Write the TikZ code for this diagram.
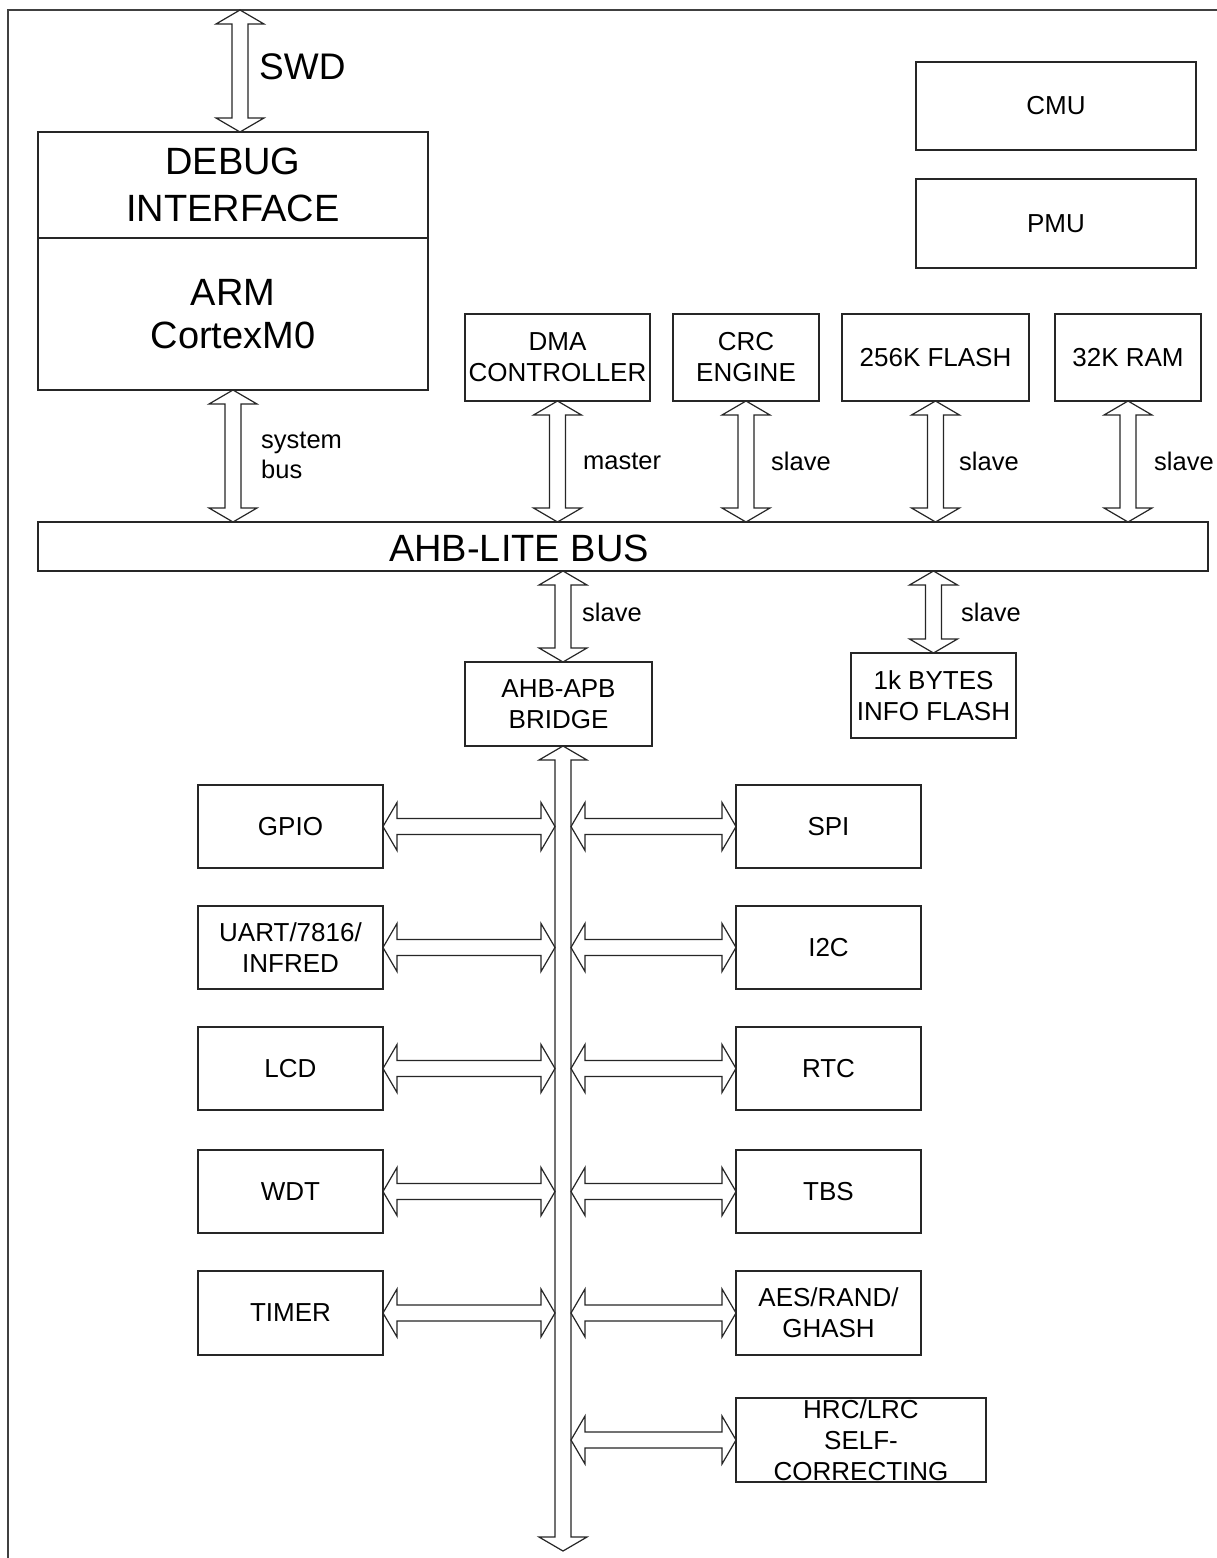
\documentclass[tikz,border=0pt]{standalone}
\usepackage{fontspec}
\setmainfont{Liberation Sans}
\usetikzlibrary{calc}
\newcommand\arrHead{14pt}
\newcommand\arrShaft{8pt}
\newcommand\arrWing{24pt}
\newcommand\blockarrow[2]{%
  \draw[barrow] (#1)
    -- ($(#1)!\arrHead!(#2)!\arrWing!90:(#2)$)
    -- ($(#1)!\arrHead!(#2)!\arrShaft!90:(#2)$)
    -- ($(#2)!\arrHead!(#1)!\arrShaft!-90:(#1)$)
    -- ($(#2)!\arrHead!(#1)!\arrWing!-90:(#1)$)
    -- (#2)
    -- ($(#2)!\arrHead!(#1)!\arrWing!90:(#1)$)
    -- ($(#2)!\arrHead!(#1)!\arrShaft!90:(#1)$)
    -- ($(#1)!\arrHead!(#2)!\arrShaft!-90:(#2)$)
    -- ($(#1)!\arrHead!(#2)!\arrWing!-90:(#2)$)
    -- cycle;}
\tikzset{
  box/.style={draw=black!85, line width=1.3pt, fill=white, inner sep=0pt, outer sep=0pt,
    align=center, font=\fontsize{26}{31}\selectfont},
  lbl/.style={inner sep=0pt, anchor=west, align=left, font=\fontsize{25.5}{30}\selectfont},
  barrow/.style={draw=black!85, fill=white, line width=1.2pt, line join=miter},
  frame/.style={draw=black!75, line width=1.4pt}
}
\begin{document}
\begin{tikzpicture}[x=1pt,y=-1pt]
\useasboundingbox (0,0) rectangle (1217,1558);
% frame
\coordinate (fTL) at (8,10);
\coordinate (fTR) at (1217,10);
\coordinate (fBL) at (8,1558);
\draw[frame] (fTR) -- (fTL) -- (fBL);

% top blocks
\node[box, minimum width=390, minimum height=106, font=\fontsize{38}{47}\selectfont] (dbgif) at (233,185) {DEBUG\\INTERFACE};
\node[box, minimum width=390, minimum height=152, font=\fontsize{38}{43}\selectfont] (arm) at (233,314) {ARM\\CortexM0};
\node[box, minimum width=280, minimum height=88] (cmu) at (1056,106) {CMU};
\node[box, minimum width=280, minimum height=89] (pmu) at (1056,223.5) {PMU};
\node[box, minimum width=185, minimum height=87] (dma) at (557.5,357.5) {DMA\\CONTROLLER};
\node[box, minimum width=146, minimum height=87] (crc) at (746,357.5) {CRC\\ENGINE};
\node[box, minimum width=187, minimum height=87] (flash) at (935.5,357.5) {256K FLASH};
\node[box, minimum width=146, minimum height=87] (ram) at (1128,357.5) {32K RAM};
\node[box, minimum width=1170, minimum height=49] (ahb) at (623,546.5) {};
\node[inner sep=0pt, font=\fontsize{38}{44}\selectfont] (ahbtxt) at (519,548) {AHB-LITE BUS};
\node[box, minimum width=187, minimum height=84] (bridge) at (558.5,704) {AHB-APB\\BRIDGE};
\node[box, minimum width=165, minimum height=85] (info) at (933.5,695.5) {1k BYTES\\INFO FLASH};

% peripherals
\node[box, minimum width=185, minimum height=83] (gpio) at (290.5,826.5) {GPIO};
\node[box, minimum width=185, minimum height=83] (uart) at (290.5,947.5) {UART/7816/\\INFRED};
\node[box, minimum width=185, minimum height=83] (lcd) at (290.5,1068.5) {LCD};
\node[box, minimum width=185, minimum height=83] (wdt) at (290.5,1191.5) {WDT};
\node[box, minimum width=185, minimum height=84] (timer) at (290.5,1313) {TIMER};
\node[box, minimum width=185, minimum height=83] (spi) at (828.5,826.5) {SPI};
\node[box, minimum width=185, minimum height=83] (i2c) at (828.5,947.5) {I2C};
\node[box, minimum width=185, minimum height=83] (rtc) at (828.5,1068.5) {RTC};
\node[box, minimum width=185, minimum height=83] (tbs) at (828.5,1191.5) {TBS};
\node[box, minimum width=185, minimum height=84] (aes) at (828.5,1313) {AES/RAND/\\GHASH};
\node[box, minimum width=250, minimum height=84, inner ysep=-5pt] (hrc) at (861,1440) {HRC/LRC\\SELF-\\CORRECTING};

% arrows on top
\coordinate (swdT) at (240,10);
\coordinate (swdB) at (dbgif.north -| swdT);
\blockarrow{swdT}{swdB}
\coordinate (sysB) at (arm.south |- ahb.north);
\blockarrow{arm.south}{sysB}
\foreach \n in {dma,crc,flash,ram}{
  \coordinate (\n-b) at (\n.south |- ahb.north);
  \blockarrow{\n.south}{\n-b}
}
\coordinate (apbx) at (563,0);
\coordinate (brT) at (apbx |- ahb.south);
\coordinate (brB) at (apbx |- bridge.north);
\blockarrow{brT}{brB}
\coordinate (infT) at (info.north |- ahb.south);
\blockarrow{infT}{info.north}

% APB bus
\coordinate (busT) at (apbx |- bridge.south);
\coordinate (busE) at (563,1551);
\blockarrow{busT}{busE}
\coordinate (busL) at (555,0);
\coordinate (busR) at (571,0);
\foreach \n in {gpio,uart,lcd,wdt,timer}{
  \coordinate (\n-b) at (\n.east -| busL);
  \blockarrow{\n.east}{\n-b}
}
\foreach \n in {spi,i2c,rtc,tbs,aes,hrc}{
  \coordinate (\n-b) at (\n.west -| busR);
  \blockarrow{\n-b}{\n.west}
}

% labels
\node[lbl, font=\fontsize{37}{44}\selectfont] (lswd) at (259,67) {SWD};
\node[lbl] (lsys) at (261,455) {system\\bus};
\node[lbl] (lmaster) at (583,461) {master};
\node[lbl] (lcrc) at (771,461) {slave};
\node[lbl] (lflash) at (959,461) {slave};
\node[lbl] (lram) at (1154,461) {slave};
\node[lbl] (lbridge) at (582,612) {slave};
\node[lbl] (linfo) at (961,612) {slave};
\end{tikzpicture}
\end{document}
